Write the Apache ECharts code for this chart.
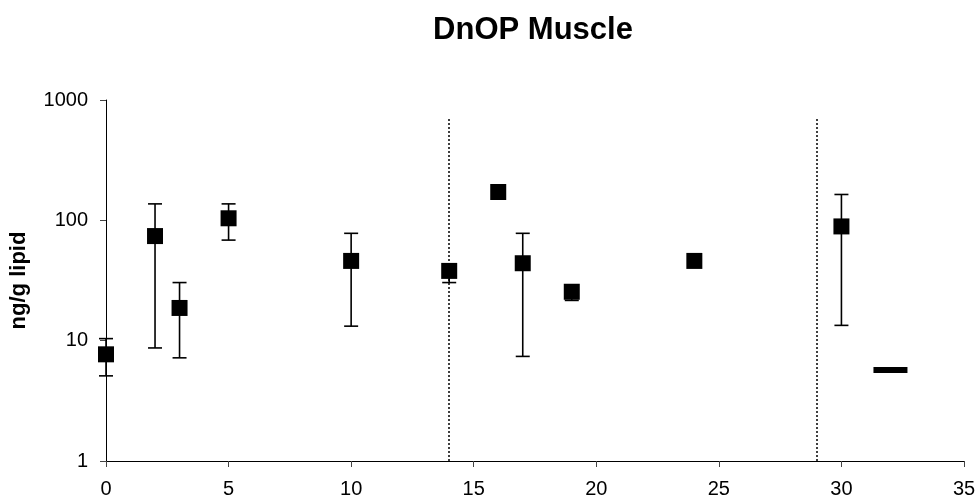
<!DOCTYPE html>
<html>
<head>
<meta charset="utf-8">
<script src="https://cdn.jsdelivr.net/npm/echarts@6/dist/echarts.min.js"></script>
<style>html,body{margin:0;padding:0;background:#fff;}#c{width:980px;height:502px;}</style>
</head>
<body>
<div id="c"></div>
<script>
// Data
var titleText = 'DnOP Muscle';
var yAxisTitle = 'ng/g lipid';
var xs     = [0,   2,   3,    5,    10,   14,   16,  17,   19,   24,  30];
var means  = [7.7, 74,  18.7, 104,  46,   38,   172, 44,   25.5, 46,  89];
var errLow = [5.1, 8.7, 7.2,  68.5, 13.2, 30.4, null, 7.4, 21.6, null, 13.4];
var errHigh= [10.4,137, 30.4, 137,  78,   43,   null, 78,  29,   null, 164];
var dashX = [32];
var dashY = [5.7];
var vlineX = [14, 29];
var vlineTop = 700;
var xTicks = [0, 5, 10, 15, 20, 25, 30, 35];
var yTicks = [1, 10, 100, 1000];

var font = 'Liberation Sans, Arial, sans-serif';
var chart = echarts.init(document.getElementById('c'), null, {renderer: 'canvas'});

var points = xs.map(function (x, i) { return [x, means[i]]; });
var errData = [];
xs.forEach(function (x, i) {
  if (errLow[i] != null && errHigh[i] != null) errData.push([x, errLow[i], errHigh[i]]);
});
var dashData = dashX.map(function (x, i) { return [x, dashY[i]]; });
var vlines = vlineX.map(function (x) {
  return [{coord: [x, yTicks[0]]}, {coord: [x, vlineTop]}];
});

chart.setOption({
  animation: false,
  backgroundColor: '#fff',
  title: {
    text: titleText,
    left: 528, textAlign: 'center',
    top: 10,
    textStyle: {fontFamily: font, fontWeight: 'bold', fontSize: 31, color: '#000'}
  },
  grid: {left: 104, right: 16, top: 100, bottom: 41, containLabel: false},
  xAxis: {
    type: 'value', min: xTicks[0], max: xTicks[xTicks.length - 1], interval: 5,
    axisLine: {show: true, lineStyle: {color: '#000', width: 1}},
    axisTick: {show: true, length: 6, inside: false, lineStyle: {color: '#444'}},
    axisLabel: {fontFamily: font, fontSize: 20, color: '#000', margin: 18},
    splitLine: {show: false}
  },
  yAxis: {
    type: 'log', logBase: 10, min: yTicks[0], max: yTicks[yTicks.length - 1],
    name: yAxisTitle, nameLocation: 'middle', nameGap: 76, nameRotate: 90,
    nameTextStyle: {fontFamily: font, fontWeight: 'bold', fontSize: 22, color: '#000'},
    axisLine: {show: true, lineStyle: {color: '#000', width: 1}},
    axisTick: {show: true, length: 6, inside: false, lineStyle: {color: '#444'}},
    minorTick: {show: false},
    axisLabel: {fontFamily: font, fontSize: 20, color: '#000', margin: 18,
      formatter: function (v) { return String(Math.round(v)); }},
    splitLine: {show: false}
  },
  series: [
    {
      type: 'custom',
      z: 2,
      data: errData,
      renderItem: function (params, api) {
        var x = api.value(0), lo = api.value(1), hi = api.value(2);
        var pLo = api.coord([x, lo]);
        var pHi = api.coord([x, hi]);
        var hw = 7;
        var st = {stroke: '#000', lineWidth: 1.6};
        return {
          type: 'group',
          children: [
            {type: 'line', shape: {x1: pLo[0], y1: pLo[1], x2: pHi[0], y2: pHi[1]}, style: st},
            {type: 'line', shape: {x1: pLo[0] - hw, y1: pLo[1], x2: pLo[0] + hw, y2: pLo[1]}, style: st},
            {type: 'line', shape: {x1: pHi[0] - hw, y1: pHi[1], x2: pHi[0] + hw, y2: pHi[1]}, style: st}
          ]
        };
      }
    },
    {
      type: 'scatter',
      z: 3,
      symbol: 'rect',
      symbolSize: 16,
      itemStyle: {color: '#000', opacity: 1},
      data: points,
      markLine: {
        silent: true,
        symbol: ['none', 'none'],
        label: {show: false},
        lineStyle: {type: [2, 2], color: '#000', width: 1.5, opacity: 1},
        data: vlines
      }
    },
    {
      type: 'scatter',
      z: 3,
      symbol: 'rect',
      symbolSize: [34, 6],
      itemStyle: {color: '#000', opacity: 1},
      data: dashData
    }
  ]
});
</script>
</body>
</html>
